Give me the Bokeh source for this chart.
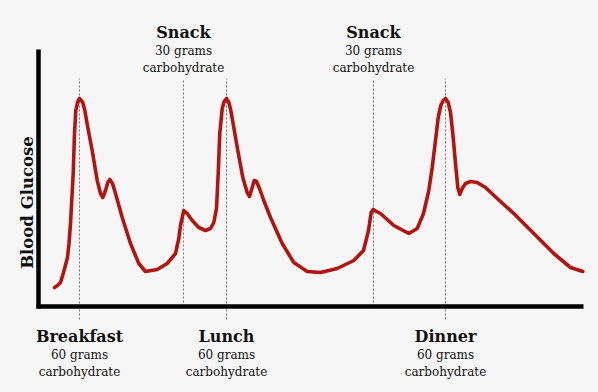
from bokeh.plotting import figure
from bokeh.models import Range1d, ColumnDataSource
from bokeh.core.properties import value
from bokeh.embed import file_html
from bokeh.resources import INLINE

# Blood glucose curve (time units, glucose units – arbitrary)
time = [16, 19, 22, 25, 29, 30.5, 32, 32.7, 34.7, 36, 37.3, 39.3, 41, 44.3, 46.3, 49.3, 53.7,
        58.7, 62, 64.3, 67, 69.3, 71.3, 74, 77, 83.7, 92, 100.3, 107, 118.7, 128.7, 137,
        140.3, 142, 145.3, 148.7, 153.7, 160.3, 167, 172, 175.3, 178, 179.7, 181.3, 183.7,
        185.7, 188, 190.3, 192.3, 195.3, 199.3, 204.3, 208.7, 211, 213.7, 215.7, 218, 221,
        225.3, 232, 243.7, 255.3, 268.7, 282, 298.7, 315.3, 325, 330, 332.7, 334.7,
        338, 342, 355.3, 370.3, 378.7, 385, 390.3, 393.7, 397, 399.7, 402.3, 404.7, 407,
        409.7, 412, 414.3, 417, 419.3, 421.3, 423.7, 427, 432, 438.7, 447, 458.7, 475.3,
        495.3, 515.3, 532, 544.3]
glucose = [19, 21, 24, 34, 49, 63, 83, 96, 133, 173, 196, 205, 208, 204, 196, 179, 156,
           126, 113, 109, 116, 124, 127, 123, 113, 89, 63, 43, 35, 37, 43, 53,
           68, 81, 96, 93, 86, 79, 76, 78, 84, 98, 133, 173, 198,
           205, 208, 204, 196, 179, 156, 129, 114, 110, 119, 126, 125, 118,
           106, 89, 63, 44, 35, 34, 38, 46, 56, 76, 94, 97,
           95, 93, 81, 73, 78, 93, 116, 139, 166, 189, 201, 206, 208,
           204, 194, 173, 143, 119, 112, 118, 123, 125, 124, 119, 108, 93,
           73, 53, 39, 35]

# Meals and snacks
events = ["Breakfast", "Snack", "Lunch", "Snack", "Dinner"]
event_time = [41, 145, 188, 335, 407]
carbs = ["60 grams", "30 grams", "60 grams", "30 grams", "60 grams"]
is_meal = [True, False, True, False, True]

p = figure(width=598, height=392, output_backend="svg", toolbar_location=None,
           x_range=Range1d(-38, 560), y_range=Range1d(-86, 306),
           min_border=0, outline_line_color=None,
           background_fill_color="#f7f6f6", border_fill_color="#f7f6f6")
p.axis.visible = False
p.grid.visible = False

# dotted marker lines
x0 = []; y0 = []; x1 = []; y1 = []
for t, m in zip(event_time, is_meal):
    x0.append(t); x1.append(t)
    y0.append(-13 if m else 0); y1.append(228)
p.segment(x0=x0, y0=y0, x1=x1, y1=y1, line_color="#777777", line_width=1, line_dash="2 2")

# axes lines
p.segment(x0=[0, -2], y0=[-2, 0], x1=[0, 545], y1=[257, 0], line_color="black", line_width=4.5)

# curve
p.line(time, glucose, line_color="#b3140f", line_width=3.6, line_join="round", line_cap="round")

font = value("DejaVu Serif")
head = dict(x=[], y=[], t=[])
sub = dict(x=[], y=[], t=[])
for name, t, c, m in zip(events, event_time, carbs, is_meal):
    base = -30 if m else 274
    head["x"].append(t); head["y"].append(base); head["t"].append(name)
    sub["x"] += [t, t]; sub["y"] += [base - 18, base - 35]; sub["t"] += [c, "carbohydrate"]

p.text(x="x", y="y", text="t", source=ColumnDataSource(head), text_font=font,
       text_font_style="bold", text_font_size="16px", text_align="center",
       text_baseline="middle", text_color="#111111")
p.text(x="x", y="y", text="t", source=ColumnDataSource(sub), text_font=font,
       text_font_size="12px", text_align="center", text_baseline="middle", text_color="#111111")
p.text(x=[-11], y=[104], text=["Blood Glucose"], angle=1.5708, text_font=font,
       text_font_style="bold", text_font_size="16.5px", text_align="center",
       text_baseline="middle", text_color="#111111")

html = file_html(p, INLINE)
html = html.replace("<head>", "<head><style>body{background:#f7f6f6;}</style>", 1)
open("out.html", "w").write(html)
